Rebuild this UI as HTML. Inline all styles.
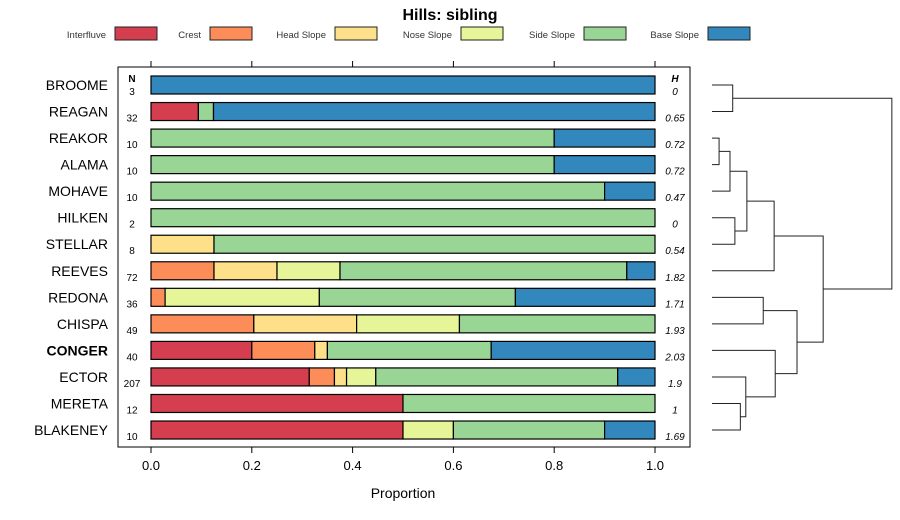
<!DOCTYPE html>
<html><head><meta charset="utf-8"><style>
body{margin:0;background:#fff;}
svg{display:block;font-family:"Liberation Sans",sans-serif;}
</style></head><body>
<svg id="chart" width="900" height="520" viewBox="0 0 900 520">
<text x="450" y="20" text-anchor="middle" font-size="16" font-weight="bold">Hills: sibling</text>
<g id="legend"></g>
<rect x="118" y="67" width="572" height="380" fill="none" stroke="#000" stroke-width="1"/>
<g id="bars"></g><g id="axes"></g><g id="dendro"></g>
<text x="403" y="498" text-anchor="middle" font-size="14">Proportion</text>
<text x="132" y="82" text-anchor="middle" font-size="10" font-weight="bold">N</text>
<text x="675" y="82" text-anchor="middle" font-size="10" font-weight="bold" font-style="italic">H</text>
</svg>
<script>
const categories=["Interfluve","Crest","Head Slope","Nose Slope","Side Slope","Base Slope"];
const colors=["#d53e4f","#fc8d59","#fee08b","#e6f598","#99d594","#3288bd"];
const series=["BROOME","REAGAN","REAKOR","ALAMA","MOHAVE","HILKEN","STELLAR","REEVES","REDONA","CHISPA","CONGER","ECTOR","MERETA","BLAKENEY"];
const nValues=[3,32,10,10,10,2,8,72,36,49,40,207,12,10];
const hValues=["0","0.65","0.72","0.72","0.47","0","0.54","1.82","1.71","1.93","2.03","1.9","1","1.69"];
const proportions=[
[0,0,0,0,0,1],
[0.094,0,0,0,0.03,0.876],
[0,0,0,0,0.8,0.2],
[0,0,0,0,0.8,0.2],
[0,0,0,0,0.9,0.1],
[0,0,0,0,1,0],
[0,0,0.125,0,0.875,0],
[0,0.125,0.125,0.125,0.569,0.056],
[0,0.028,0,0.306,0.389,0.277],
[0,0.204,0.204,0.204,0.388,0],
[0.2,0.125,0.025,0,0.325,0.325],
[0.314,0.05,0.024,0.058,0.48,0.074],
[0.5,0,0,0,0.5,0],
[0.5,0,0,0.1,0.3,0.1]];
const xTicks=[0,0.2,0.4,0.6,0.8,1.0];
const xTickLabels=["0.0","0.2","0.4","0.6","0.8","1.0"];
// dendrogram merges: [childA, childB, height]; negative = leaf index (-(i+1)), positive = merge number (1-based)
const merges=[[-3,-4,0.065],[-1,-2,0.19],[-6,-7,0.21],[1,-5,0.165],[-13,-14,0.26],[5,-12,0.31],[4,3,0.32],[-9,-10,0.47],[7,-8,0.57],[-11,6,0.58],[8,10,0.78],[9,11,1.02],[2,12,1.65]];
const NS="http://www.w3.org/2000/svg";
const x=v=>151+v*504;
const y=i=>85+i*26.54;
const dx=h=>712+h*109;
function mk(t,a,p){const e=document.createElementNS(NS,t);for(const k in a)e.setAttribute(k,a[k]);p.appendChild(e);return e;}
const legend=document.getElementById('legend');
const lbx=[115,210,335,461,584,708];
categories.forEach((c,i)=>{
 const t=mk('text',{x:lbx[i]-9,y:38,'text-anchor':'end','font-size':9.5,fill:'#333'},legend);t.textContent=c;
 
 
 const r=mk('rect',{x:lbx[i],y:27,width:42,height:13,fill:colors[i],stroke:'#222'},legend);
 
 
});
const bars=document.getElementById('bars');
series.forEach((s,i)=>{
 let c=0;
 proportions[i].forEach((v,k)=>{
  if(v<=0)return;
  const r=mk('rect',{x:x(c),y:y(i)-9,width:x(c+v)-x(c),height:18,fill:colors[k],stroke:'#000','stroke-width':1.2},bars);
  
  
  c+=v;
 });
 const l=mk('text',{x:108,y:y(i)+5,'text-anchor':'end','font-size':14,'font-weight':s==='CONGER'?'bold':'normal'},bars);l.textContent=s;
 
 
 const n=mk('text',{x:132,y:y(i)+10,'text-anchor':'middle','font-size':10},bars);n.textContent=nValues[i];
 
 
 const h=mk('text',{x:675,y:y(i)+10,'text-anchor':'middle','font-size':10,'font-style':'italic'},bars);h.textContent=hValues[i];
 
 
});
const axes=document.getElementById('axes');
xTicks.forEach((t,i)=>{
 const a=mk('line',{x1:x(t),x2:x(t),y1:447,y2:453,stroke:'#000'},axes);
 
 
 const b=mk('line',{x1:x(t),x2:x(t),y1:61,y2:67,stroke:'#000'},axes);
 
 
 const l=mk('text',{x:x(t),y:470,'text-anchor':'middle','font-size':13},axes);l.textContent=xTickLabels[i];
 
 
});
const dendro=document.getElementById('dendro');
const pos=[];
function node(id){if(id<0)return {y:y(-id-1),h:0};return pos[id-1];}
merges.forEach(m=>{
 const a=node(m[0]),b=node(m[1]);
 const hx=dx(m[2]);
 const p=mk('path',{d:`M${dx(a.h)},${a.y}H${hx}V${b.y}H${dx(b.h)}`,fill:'none',stroke:'#222','stroke-width':1},dendro);
 
 
 pos.push({y:(a.y+b.y)/2,h:m[2]});
});
</script>
</body></html>
